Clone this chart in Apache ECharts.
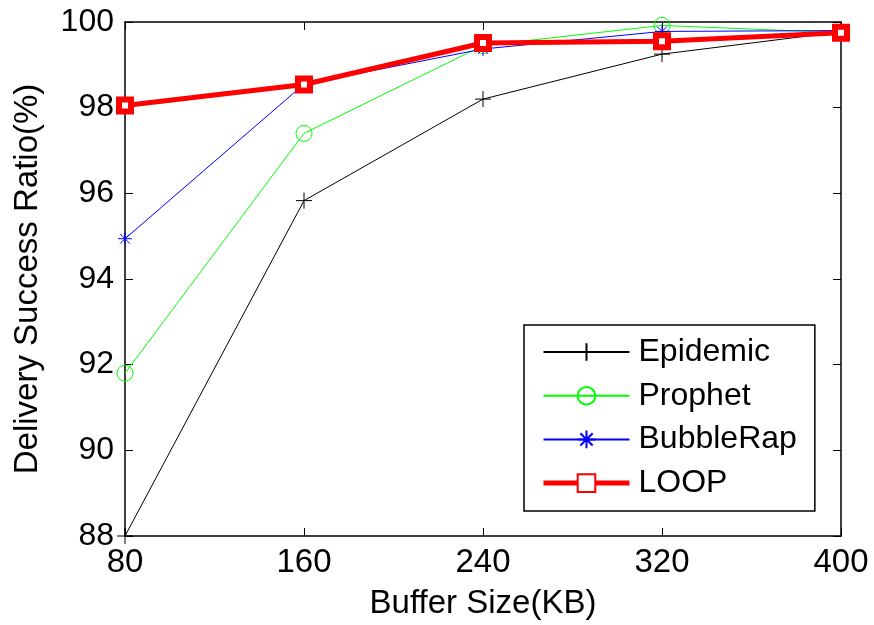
<!DOCTYPE html>
<html>
<head>
<meta charset="utf-8">
<script src="https://cdn.jsdelivr.net/npm/echarts@6/dist/echarts.min.js"></script>
<style>html,body{margin:0;padding:0;background:#fff}#c{width:874px;height:625px}</style>
</head>
<body>
<div id="c"></div>
<script>
const bufferSizes = [80, 160, 240, 320, 400];
const epidemic = [88.0, 95.83, 98.2, 99.25, 99.77];
const prophet = [91.8, 97.4, 99.45, 99.92, 99.75];
const bubbleRap = [94.94, 98.55, 99.37, 99.78, 99.8];
const loop = [98.05, 98.54, 99.51, 99.55, 99.75];
const xTicks = [80, 160, 240, 320, 400];
const yTicks = [88, 90, 92, 94, 96, 98, 100];
const seriesNames = ['Epidemic', 'Prophet', 'BubbleRap', 'LOOP'];

const FONT = 'Liberation Sans, Arial, sans-serif';
const pair = arr => bufferSizes.map((x, i) => [x, arr[i]]);
const plusPath = 'path://M0,5L10,5M5,0L5,10';
const starPath = 'path://M0,5L10,5M5,0L5,10M1.5,1.5L8.5,8.5M1.5,8.5L8.5,1.5';

const chart = echarts.init(document.getElementById('c'), null, {renderer: 'canvas'});
const axisCommon = {
  axisLine: {show: true, onZero: false, lineStyle: {color: '#000', width: 1.5}},
  axisTick: {show: true, inside: true, length: 8, lineStyle: {color: '#000', width: 1}},
  splitLine: {show: false}
};
chart.setOption({
  animation: false,
  backgroundColor: '#fff',
  grid: {left: 125, right: 33, top: 22, bottom: 89, containLabel: false},
  xAxis: [
    Object.assign({
      type: 'value', min: 80, max: 400, interval: 80, position: 'bottom',
      name: 'Buffer Size(KB)', nameLocation: 'middle', nameGap: 51,
      nameTextStyle: {fontFamily: FONT, fontSize: 33, color: '#000'},
      axisLabel: {fontFamily: FONT, fontSize: 33, color: '#000', margin: 10,
        formatter: v => xTicks.includes(v) ? String(v) : ''}
    }, axisCommon),
    Object.assign({
      type: 'value', min: 80, max: 400, interval: 80, position: 'top',
      axisLabel: {show: false}
    }, axisCommon)
  ],
  yAxis: [
    Object.assign({
      type: 'value', min: 88, max: 100, interval: 2, position: 'left',
      name: 'Delivery Success Ratio(%)', nameLocation: 'middle', nameGap: 81,
      nameTextStyle: {fontFamily: FONT, fontSize: 33, color: '#000'},
      axisLabel: {fontFamily: FONT, fontSize: 32, color: '#000', margin: 11,
        formatter: v => yTicks.includes(v) ? String(v) : ''}
    }, axisCommon),
    Object.assign({
      type: 'value', min: 88, max: 100, interval: 2, position: 'right',
      axisLabel: {show: false}
    }, axisCommon)
  ],
  legend: {
    orient: 'vertical', left: 524, top: 325,
    backgroundColor: '#fff', borderColor: '#000', borderWidth: 1.5, borderRadius: 0,
    padding: [11, 18, 12, 17],
    itemWidth: 86, itemHeight: 22, itemGap: 11.7,
    textStyle: {fontFamily: FONT, fontSize: 32, color: '#000', lineHeight: 32, padding: [0, 0, 0, 4]},
    data: [
      {name: seriesNames[0]},
      {name: seriesNames[1]},
      {name: seriesNames[2]},
      {name: seriesNames[3], lineStyle: {width: 5}}
    ]
  },
  series: [
    {
      name: seriesNames[0], type: 'line', data: pair(epidemic),
      symbol: plusPath, symbolSize: 16,
      lineStyle: {color: '#000', width: 1},
      itemStyle: {color: '#000', borderColor: '#000', borderWidth: 1},
      z: 2
    },
    {
      name: seriesNames[1], type: 'line', data: pair(prophet),
      symbol: 'circle', symbolSize: 16,
      lineStyle: {color: '#00ff00', width: 1},
      itemStyle: {color: 'rgba(255,255,255,0)', borderColor: '#00ff00', borderWidth: 1},
      z: 3
    },
    {
      name: seriesNames[2], type: 'line', data: pair(bubbleRap),
      symbol: starPath, symbolSize: 14,
      lineStyle: {color: '#0000ff', width: 1},
      itemStyle: {color: '#0000ff', borderColor: '#0000ff', borderWidth: 1},
      z: 4
    },
    {
      name: seriesNames[3], type: 'line', data: pair(loop),
      symbol: 'rect', symbolSize: 12,
      lineStyle: {color: '#ff0000', width: 5},
      itemStyle: {color: '#ffffff', borderColor: '#ff0000', borderWidth: 6},
      z: 5
    }
  ]
});
</script>
</body>
</html>
